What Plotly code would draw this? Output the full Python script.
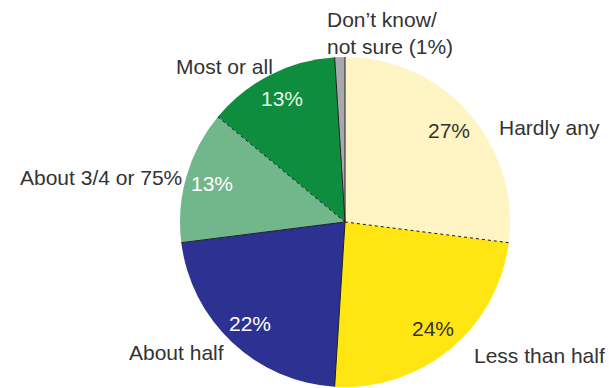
import math
import plotly.graph_objects as go

# ---- data ----
labels = ["Hardly any", "Less than half", "About half", "About 3/4 or 75%",
          "Most or all", "Don\u2019t know/<br>not sure (1%)"]
values = [27, 24, 22, 13, 13, 1]
show_pct = [True, True, True, True, True, False]

# ---- styles ----
colors = ["#FFF4C4", "#FFE512", "#2D3192", "#72B78C", "#0F8D3E", "#A7A9AC"]
pct_colors = ["#333333", "#333333", "#FFFFFF", "#FFFFFF", "#E8F4E8", "#333333"]
boundary_dash = ["solid", "dot", "solid", "solid", "dot", "solid"]  # boundary at start of each slice

W, H = 609, 388
CX, CY, R = 345, 222, 165  # pie centre / radius in pixels

label_pos = [  # (x px, y px, xanchor)
    (497, 128, "left"),
    (472, 355, "left"),
    (226, 352, "right"),
    (184, 178, "right"),
    (275, 66, "right"),
    (325, 33, "left"),
]

FONT = "Liberation Sans, Arial, sans-serif"


def px_to_paper(x, y):
    return x / W, 1 - y / H


fig = go.Figure(go.Pie(
    labels=labels,
    values=values,
    sort=False,
    direction="clockwise",
    rotation=0,
    marker=dict(colors=colors, line=dict(width=0)),
    textinfo="none",
    hoverinfo="skip",
    showlegend=False,
    domain=dict(x=[(CX - R) / W, (CX + R) / W],
                y=[(H - CY - R) / H, (H - CY + R) / H]),
))

total = sum(values)
annotations = []
shapes = []
cum = 0
for i, v in enumerate(values):
    start = cum / total * 2 * math.pi
    mid = (cum + v / 2) / total * 2 * math.pi
    # boundary line at slice start
    x0, y0 = px_to_paper(CX, CY)
    x1, y1 = px_to_paper(CX + R * math.sin(start), CY - R * math.cos(start))
    shapes.append(dict(type="line", xref="paper", yref="paper",
                       x0=x0, y0=y0, x1=x1, y1=y1,
                       line=dict(color="#1e1e1e", width=1, dash=boundary_dash[i])))
    if show_pct[i]:
        tx, ty = px_to_paper(CX + 0.84 * R * math.sin(mid), CY - 0.84 * R * math.cos(mid))
        annotations.append(dict(x=tx, y=ty, xref="paper", yref="paper",
                                text=f"{v}%", showarrow=False,
                                xanchor="center", yanchor="middle",
                                font=dict(family=FONT, size=21, color=pct_colors[i])))
    lx, ly, anc = label_pos[i]
    px, py = px_to_paper(lx, ly)
    annotations.append(dict(x=px, y=py, xref="paper", yref="paper",
                            text=labels[i], showarrow=False, align="left",
                            xanchor=anc, yanchor="middle",
                            font=dict(family=FONT, size=21, color="#333333")))
    cum += v

fig.update_layout(
    width=W, height=H,
    margin=dict(l=0, r=0, t=0, b=0),
    paper_bgcolor="white",
    plot_bgcolor="white",
    annotations=annotations,
    shapes=shapes,
)

fig.write_html("out.html")
